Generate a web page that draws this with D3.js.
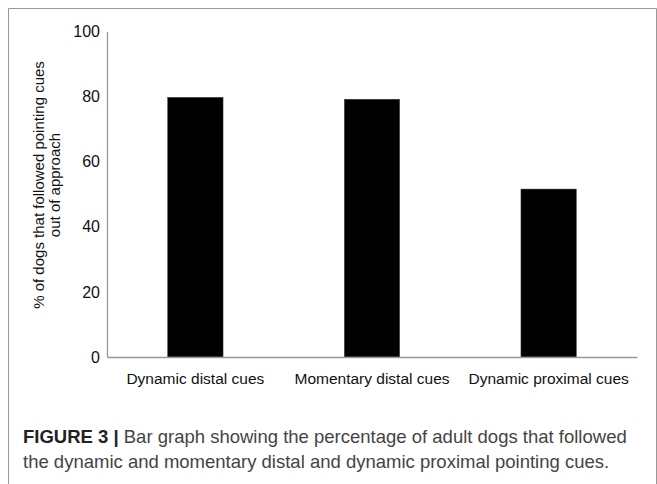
<!DOCTYPE html>
<html>
<head>
<meta charset="utf-8">
<script src="https://cdn.jsdelivr.net/npm/d3@7"></script>
<style>
  body { margin: 0; background: #fff; }
  text { font-family: "Liberation Sans", Arial, sans-serif; }
</style>
</head>
<body>
<div id="chart"></div>
<script>
var categories = ["Dynamic distal cues", "Momentary distal cues", "Dynamic proximal cues"];
var values = [79.8, 79.2, 51.6];
var yTicks = [0, 20, 40, 60, 80, 100];
var yLabel = ["% of dogs that followed pointing cues", "out of approach"];
var captionBold = "FIGURE 3 |";
var captionLines = [" Bar graph showing the percentage of adult dogs that followed",
                    "the dynamic and momentary distal and dynamic proximal pointing cues."];

var width = 657, height = 484;
var svg = d3.select("#chart").append("svg")
  .attr("width", width)
  .attr("height", height);

// frame
svg.append("path")
  .attr("d", "M8.5,484 V8.5 H656.5 V484")
  .attr("fill", "none")
  .attr("stroke", "#999")
  .attr("stroke-width", 1);

var x = d3.scaleBand()
  .domain(categories)
  .range([107, 637])
  .paddingInner(0.686)
  .paddingOuter(0.343);

var y = d3.scaleLinear()
  .domain([0, 100])
  .range([357, 31.5]);

// bars
svg.append("g")
  .selectAll("rect")
  .data(values)
  .enter()
  .append("rect")
    .attr("x", function(d, i) { return x(categories[i]); })
    .attr("y", function(d) { return y(d); })
    .attr("width", x.bandwidth())
    .attr("height", function(d) { return y(0) - y(d); })
    .attr("fill", "#000")
    .attr("stroke", "#555")
    .attr("stroke-width", 0.5);

// y axis
var yAxis = svg.append("g")
  .attr("transform", "translate(107,0)")
  .call(d3.axisLeft(y).tickValues(yTicks).tickSize(0).tickPadding(7));
yAxis.select(".domain").attr("stroke", "#999").attr("stroke-width", 1.3);
yAxis.selectAll("text")
  .attr("font-size", 16)
  .attr("fill", "#111")
  .style("font-family", "Liberation Sans, Arial, sans-serif");

// x axis
var xAxis = svg.append("g")
  .attr("transform", "translate(0,357)")
  .call(d3.axisBottom(x).tickSize(0).tickPadding(16));
xAxis.select(".domain").attr("stroke", "#999").attr("stroke-width", 1.3);
xAxis.selectAll("text")
  .attr("font-size", 15.5)
  .attr("fill", "#111")
  .style("font-family", "Liberation Sans, Arial, sans-serif");

// y label
var yl = svg.append("text")
  .attr("transform", "translate(44,185) rotate(-90)")
  .attr("text-anchor", "middle")
  .attr("font-size", 15)
  .attr("fill", "#111");
yl.selectAll("tspan")
  .data(yLabel)
  .enter()
  .append("tspan")
    .attr("x", 0)
    .attr("dy", function(d, i) { return i === 0 ? 0 : 16; })
    .text(function(d) { return d; });

// caption
var cap = svg.append("text")
  .attr("x", 23)
  .attr("y", 443)
  .attr("font-size", 18.5)
  .attr("fill", "#444");
cap.append("tspan").attr("font-weight", "bold").attr("fill", "#222").text(captionBold);
cap.append("tspan").text(captionLines[0]);
svg.append("text")
  .attr("x", 23)
  .attr("y", 468)
  .attr("font-size", 18.5)
  .attr("fill", "#444")
  .text(captionLines[1]);
</script>
</body>
</html>
